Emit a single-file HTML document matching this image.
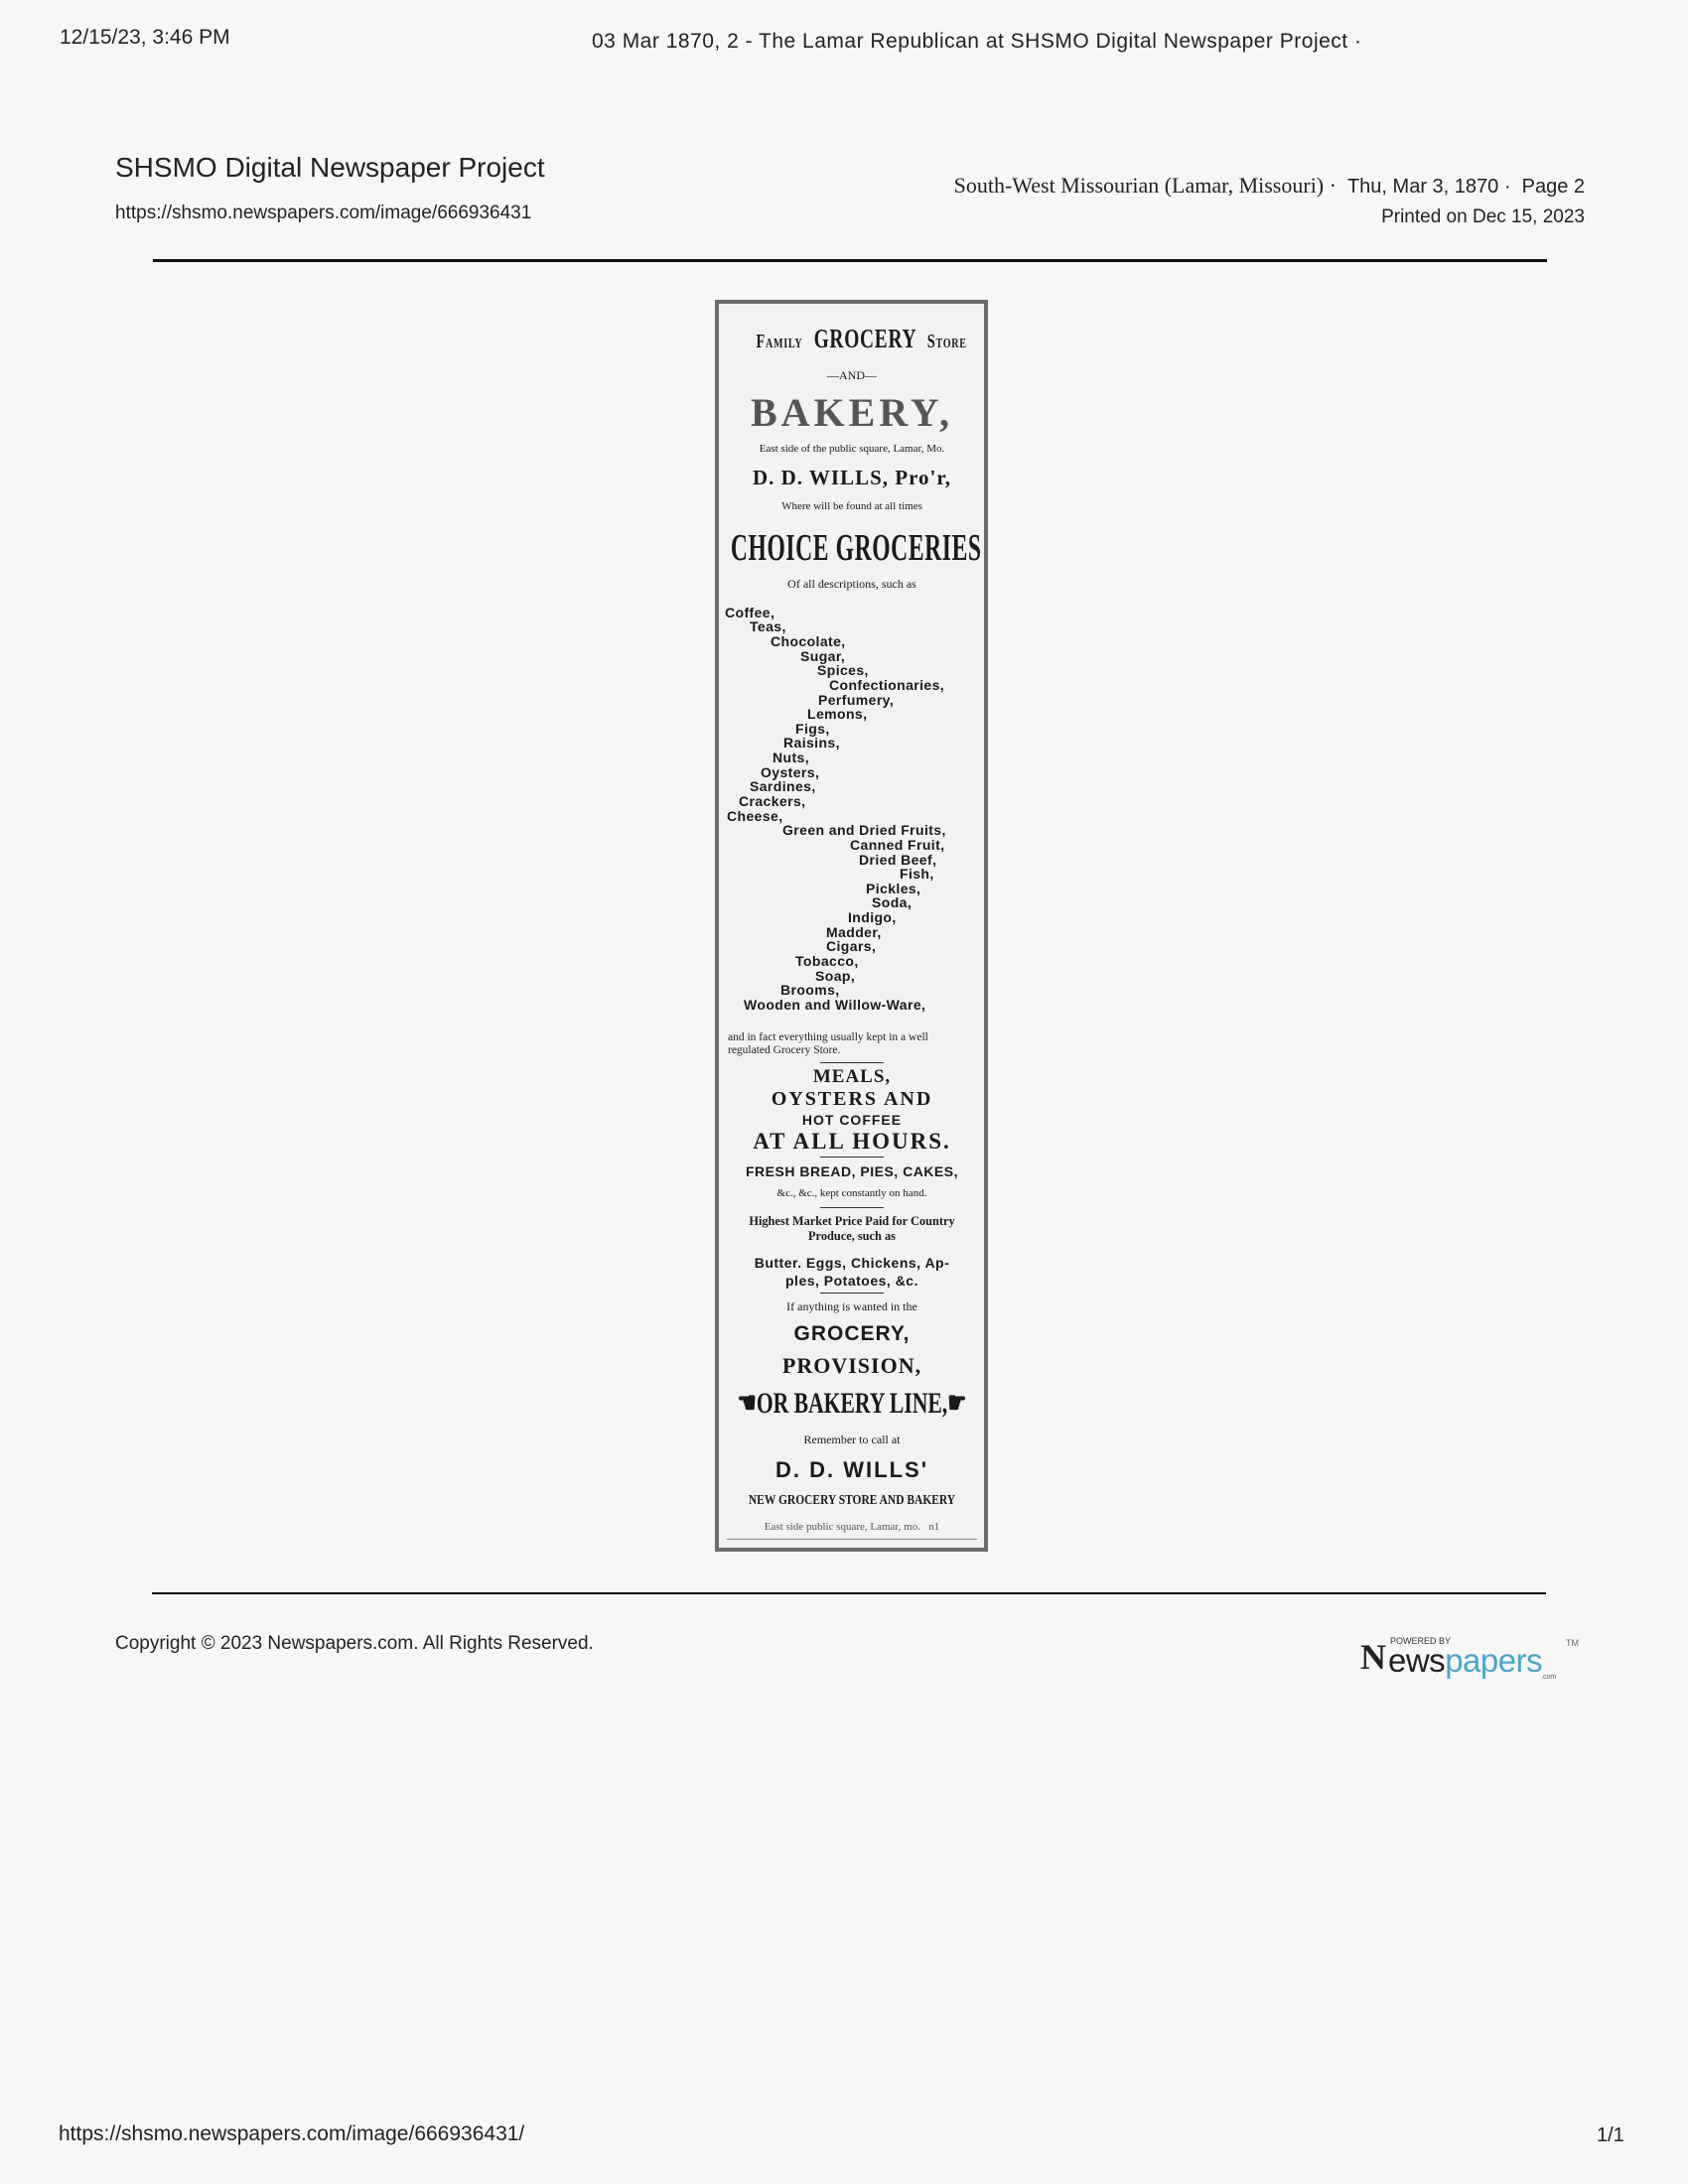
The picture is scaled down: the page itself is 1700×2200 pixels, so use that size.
<!DOCTYPE html>
<html><head><meta charset="utf-8"><style>
body{margin:0;width:1700px;height:2200px;background:#f7f7f6;position:relative;overflow:hidden;font-family:"Liberation Sans",sans-serif;color:#222}
.a{position:absolute;white-space:nowrap}
.c{position:absolute;left:724px;width:268px;text-align:center;white-space:nowrap;color:#1a1a1a}
.s{font-family:"Liberation Serif",serif}
.l{position:absolute;font-weight:bold;font-size:14px;line-height:15px;letter-spacing:.4px;white-space:nowrap;color:#1a1a1a}
.r{position:absolute;left:826px;width:64px;height:1px;background:#333}
</style></head><body>
<div class="a" style="left:60px;top:26px;font-size:21px">12/15/23, 3:46 PM</div>
<div class="a" style="left:596px;top:30px;font-size:21px;letter-spacing:.5px">03 Mar 1870, 2 - The Lamar Republican at SHSMO Digital Newspaper Project ·</div>
<div class="a" style="left:116px;top:153px;font-size:28px">SHSMO Digital Newspaper Project</div>
<div class="a" style="left:116px;top:204px;font-size:19px">https://shsmo.newspapers.com/image/666936431</div>
<div class="a s" style="right:104px;top:174px;font-size:22px">South-West Missourian (Lamar, Missouri) · &nbsp;<span style="font-family:'Liberation Sans',sans-serif;font-size:20px">Thu, Mar 3, 1870 · &nbsp;Page 2</span></div>
<div class="a" style="right:104px;top:208px;font-size:19px">Printed on Dec 15, 2023</div>
<div class="a" style="left:154px;top:261px;width:1404px;height:3px;background:#111"></div>

<div class="a" style="left:720px;top:302px;width:267px;height:1253px;border:4px solid #6a6c6a;background:#f2f2f0"></div>
<div class="c s" style="top:326px;font-size:27px;font-weight:bold;letter-spacing:1px;transform:scaleX(.72)"><span style="font-size:20px">F<span style="font-size:14px">AMILY</span></span>&nbsp; GROCERY &nbsp;<span style="font-size:20px">S<span style="font-size:14px">TORE</span></span></div>
<div class="c s" style="top:371px;font-size:12px">—AND—</div>
<div class="c s" style="top:392px;font-size:40px;font-weight:bold;letter-spacing:4px;color:#555">BAKERY,</div>
<div class="c s" style="top:446px;font-size:11px">East side of the public square, Lamar, Mo.</div>
<div class="c s" style="top:469px;font-size:21px;font-weight:bold;letter-spacing:1px">D. D. WILLS, Pro'r,</div>
<div class="c s" style="top:504px;font-size:11px">Where will be found at all times</div>
<div class="c s" style="top:530px;font-size:38px;font-weight:bold;transform:scaleX(.62);letter-spacing:1px;width:394px;left:661px">CHOICE GROCERIES</div>
<div class="c s" style="top:581px;font-size:12px">Of all descriptions, such as</div>

<div class="l" style="left:730px;top:610px">Coffee,</div>
<div class="l" style="left:755px;top:624px">Teas,</div>
<div class="l" style="left:776px;top:639px">Chocolate,</div>
<div class="l" style="left:806px;top:654px">Sugar,</div>
<div class="l" style="left:823px;top:668px">Spices,</div>
<div class="l" style="left:835px;top:683px">Confectionaries,</div>
<div class="l" style="left:824px;top:698px">Perfumery,</div>
<div class="l" style="left:813px;top:712px">Lemons,</div>
<div class="l" style="left:801px;top:727px">Figs,</div>
<div class="l" style="left:789px;top:741px">Raisins,</div>
<div class="l" style="left:778px;top:756px">Nuts,</div>
<div class="l" style="left:766px;top:771px">Oysters,</div>
<div class="l" style="left:755px;top:785px">Sardines,</div>
<div class="l" style="left:744px;top:800px">Crackers,</div>
<div class="l" style="left:732px;top:815px">Cheese,</div>
<div class="l" style="left:788px;top:829px">Green and Dried Fruits,</div>
<div class="l" style="left:856px;top:844px">Canned Fruit,</div>
<div class="l" style="left:865px;top:859px">Dried Beef,</div>
<div class="l" style="left:906px;top:873px">Fish,</div>
<div class="l" style="left:872px;top:888px">Pickles,</div>
<div class="l" style="left:878px;top:902px">Soda,</div>
<div class="l" style="left:854px;top:917px">Indigo,</div>
<div class="l" style="left:832px;top:932px">Madder,</div>
<div class="l" style="left:832px;top:946px">Cigars,</div>
<div class="l" style="left:801px;top:961px">Tobacco,</div>
<div class="l" style="left:821px;top:976px">Soap,</div>
<div class="l" style="left:786px;top:990px">Brooms,</div>
<div class="l" style="left:749px;top:1005px">Wooden and Willow-Ware,</div>

<div class="a s" style="left:733px;top:1039px;font-size:11.5px;line-height:13px">and in fact everything usually kept in a well<br>regulated Grocery Store.</div>
<div class="r" style="top:1070px"></div>
<div class="c s" style="top:1074px;font-size:19px;font-weight:bold;letter-spacing:1px">MEALS,</div>
<div class="c s" style="top:1096px;font-size:20px;font-weight:bold;letter-spacing:2px">OYSTERS AND</div>
<div class="c" style="top:1120px;font-size:14px;font-weight:bold;letter-spacing:1px">HOT COFFEE</div>
<div class="c s" style="top:1137px;font-size:23px;font-weight:bold;letter-spacing:2px">AT ALL HOURS.</div>
<div class="r" style="top:1165px"></div>
<div class="c" style="top:1172px;font-size:14px;font-weight:bold;letter-spacing:.5px">FRESH BREAD, PIES, CAKES,</div>
<div class="c s" style="top:1196px;font-size:11px">&amp;c., &amp;c., kept constantly on hand.</div>
<div class="r" style="top:1216px"></div>
<div class="c s" style="top:1222px;font-size:13px;font-weight:bold;line-height:15px;transform:scaleX(.95)">Highest Market Price Paid for Country<br>Produce, such as</div>
<div class="c" style="top:1263px;font-size:14px;font-weight:bold;line-height:18px;letter-spacing:.5px">Butter. Eggs, Chickens, Ap-<br>ples, Potatoes, &amp;c.</div>
<div class="r" style="top:1302px"></div>
<div class="c s" style="top:1309px;font-size:12px">If anything is wanted in the</div>
<div class="c" style="top:1332px;font-size:21px;font-weight:bold;letter-spacing:1px">GROCERY,</div>
<div class="c s" style="top:1363px;font-size:22px;font-weight:bold;letter-spacing:1px">PROVISION,</div>
<div class="c s" style="top:1396px;font-size:30px;font-weight:bold;transform:scaleX(.72);width:372px;left:672px">☚OR BAKERY LINE,☛</div>
<div class="c s" style="top:1443px;font-size:12px">Remember to call at</div>
<div class="c" style="top:1468px;font-size:22px;font-weight:bold;letter-spacing:2px">D. D. WILLS'</div>
<div class="c s" style="top:1504px;font-size:14px;font-weight:bold;transform:scaleX(.82);width:326px;left:695px">NEW GROCERY STORE AND BAKERY</div>
<div class="c s" style="top:1532px;font-size:11px;color:#555">East side public square, Lamar, mo. &nbsp; n1</div>
<div class="a" style="left:732px;top:1550px;width:252px;height:1px;background:#888"></div>

<div class="a" style="left:153px;top:1604px;width:1404px;height:2px;background:#111"></div>
<div class="a" style="left:116px;top:1645px;font-size:19px">Copyright © 2023 Newspapers.com. All Rights Reserved.</div>
<div class="a" style="left:1370px;top:1648px;height:44px;width:230px">
<span class="a s" style="left:0;top:0px;font-size:36px;font-weight:bold;color:#222">N</span>
<span class="a" style="left:30px;top:0px;font-size:9px;color:#333">POWERED BY</span>
<span class="a" style="left:28px;top:6px;font-size:33px;color:#222;letter-spacing:-.5px">ews<span style="color:#4aa6c8">papers</span></span>
<span class="a" style="left:207px;top:2px;font-size:9px;color:#666">TM</span>
<span class="a" style="left:182px;top:38px;font-size:7px;color:#555">.com</span>
</div>
<div class="a" style="left:59px;top:2138px;font-size:21px">https://shsmo.newspapers.com/image/666936431/</div>
<div class="a" style="left:1608px;top:2140px;font-size:20px">1/1</div>
</body></html>
